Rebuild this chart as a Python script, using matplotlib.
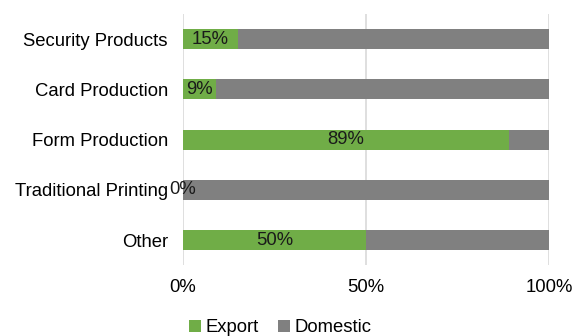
import matplotlib.pyplot as plt
import numpy as np

plt.rcParams['font.family'] = ['Liberation Sans', 'DejaVu Sans']

categories = ['Other', 'Traditional Printing', 'Form Production', 'Card Production', 'Security Products']
export = [50, 0, 89, 9, 15]
domestic = [50, 100, 11, 91, 85]
ticks = [0, 50, 100]
tick_labels = ['0%', '50%', '100%']

fs = 13.3

fig = plt.figure(figsize=(5.72, 3.36), dpi=100)
ax = fig.add_axes([0.32, 0.211, 0.64, 0.747])

y = np.arange(len(categories))
ax.barh(y, export, height=0.4, color='#70AD47', label='Export', zorder=3)
ax.barh(y, domestic, left=export, height=0.4, color='#808080', label='Domestic', zorder=3)

for yi, v in zip(y, export):
    ax.text(v / 2, yi, f'{v}%', ha='center', va='center', fontsize=fs, color='#1a1a1a', zorder=4)

ax.set_xlim(0, 100)
ax.set_ylim(-0.5, len(categories) - 0.5)
ax.set_yticks(y)
ax.set_yticklabels(categories, fontsize=fs)
ax.set_xticks(ticks)
ax.set_xticklabels(tick_labels, fontsize=fs)
ax.tick_params(length=0)
ax.tick_params(axis='x', pad=10)
ax.tick_params(axis='y', pad=11)
ax.grid(axis='x', color='#D9D9D9', linewidth=1.2, zorder=0)
for s in ax.spines.values():
    s.set_visible(False)

fig.legend(loc='lower center', bbox_to_anchor=(0.49, -0.05), ncol=2, frameon=False,
           fontsize=fs, handlelength=0.65, handleheight=0.65, handletextpad=0.25, columnspacing=1.0)

fig.savefig('out.png', dpi=100)
